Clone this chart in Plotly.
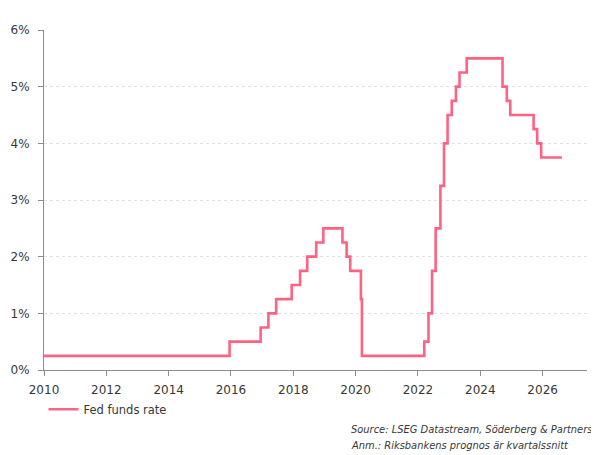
import plotly.graph_objects as go

# Fed funds rate (upper bound), dates of change
dates = ["2010-01-01", "2015-12-16", "2016-12-14", "2017-03-15", "2017-06-14",
         "2017-12-13", "2018-03-21", "2018-06-13", "2018-09-26", "2018-12-19",
         "2019-07-31", "2019-09-18", "2019-10-30", "2020-03-03", "2020-03-15",
         "2022-03-16", "2022-05-04", "2022-06-15", "2022-07-27", "2022-09-21",
         "2022-11-02", "2022-12-14", "2023-02-01", "2023-03-22", "2023-05-03",
         "2023-07-26", "2024-09-18", "2024-11-07", "2024-12-18", "2025-09-17",
         "2025-10-29", "2025-12-15", "2026-08-15"]
rates = [0.25, 0.5, 0.75, 1.0, 1.25,
         1.5, 1.75, 2.0, 2.25, 2.5,
         2.25, 2.0, 1.75, 1.25, 0.25,
         0.5, 1.0, 1.75, 2.5, 3.25,
         4.0, 4.5, 4.75, 5.0, 5.25,
         5.5, 5.0, 4.75, 4.5, 4.25,
         4.0, 3.75, 3.75]

y_ticks = [0, 1, 2, 3, 4, 5, 6]
y_labels = ["0%", "1%", "2%", "3%", "4%", "5%", "6%"]
x_ticks = ["2010-01-01", "2012-01-01", "2014-01-01", "2016-01-01",
           "2018-01-01", "2020-01-01", "2022-01-01", "2024-01-01", "2026-01-01"]
x_labels = ["2010", "2012", "2014", "2016", "2018", "2020", "2022", "2024", "2026"]

font = "DejaVu Sans"
txt = "#383838"

fig = go.Figure()
fig.add_trace(go.Scatter(
    x=dates, y=rates, name="Fed funds rate",
    mode="lines", line=dict(color="#ff6384", width=2.6, shape="hv"),
))

# page body has an 8px margin, so the figure is a bit smaller than the window
fig.update_layout(
    width=591, height=447,
    margin=dict(l=36, r=12, t=22, b=85),
    paper_bgcolor="white", plot_bgcolor="white",
    font=dict(family=font, size=12, color=txt),
    showlegend=True,
    legend=dict(orientation="h", x=-0.001, y=-0.073, xanchor="left", yanchor="top",
                font=dict(size=11.5, color=txt)),
    xaxis=dict(
        type="date", range=["2010-01-01", "2027-06-05"],
        tickvals=x_ticks, ticktext=x_labels, automargin=False,
        showgrid=False, showline=True, linecolor="#8c8c8c", linewidth=1,
        ticks="outside", ticklen=5, tickcolor="#8c8c8c", ticklabelstandoff=4,
        tickfont=dict(size=12, color=txt),
    ),
    yaxis=dict(
        range=[0, 6], tickvals=y_ticks, ticktext=y_labels, automargin=False,
        showgrid=True, gridcolor="#e0e0e0", griddash="dot", gridwidth=1,
        showline=True, linecolor="#8c8c8c", linewidth=1,
        ticks="outside", ticklen=5, tickcolor="#8c8c8c", ticklabelstandoff=6,
        zeroline=False, tickfont=dict(size=12, color=txt),
    ),
    annotations=[
        dict(text="<i>Source: LSEG Datastream, Söderberg & Partners</i>",
             xref="paper", yref="paper", x=0.5617, y=-0.176, xanchor="left", yanchor="middle",
             showarrow=False, font=dict(family="DejaVu Sans Condensed", size=11, color=txt)),
        dict(text="<i>Anm.: Riksbankens prognos är kvartalssnitt</i>",
             xref="paper", yref="paper", x=0.5617, y=-0.2235, xanchor="left", yanchor="middle",
             showarrow=False, font=dict(family="DejaVu Sans Condensed", size=11, color=txt)),
    ],
)

fig.write_html("out.html")
